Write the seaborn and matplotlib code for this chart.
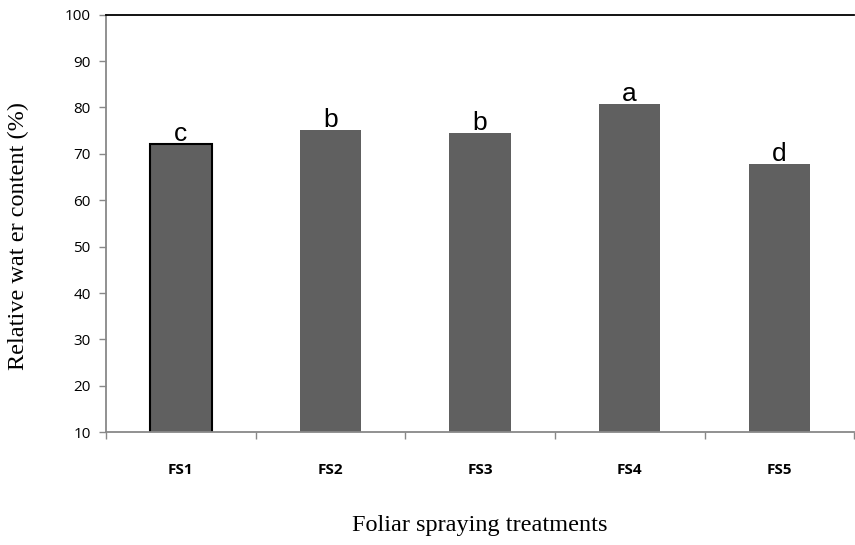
import seaborn as sns
import matplotlib.pyplot as plt
import pandas as pd

treatments = ['FS1', 'FS2', 'FS3', 'FS4', 'FS5']
water_content = [72.1, 75.2, 74.6, 80.8, 67.8]
letters = ['c', 'b', 'b', 'a', 'd']

df = pd.DataFrame({'treatment': treatments, 'rwc': water_content})

sns.set_style('white')
plt.rcParams['text.color'] = 'black'
plt.rcParams['xtick.labelcolor'] = 'black'
plt.rcParams['ytick.labelcolor'] = 'black'
plt.rcParams['axes.labelcolor'] = 'black'

fig = plt.figure(figsize=(8.55, 5.45), dpi=100)
ax = fig.add_axes([0.124, 0.207, 0.875, 0.766])

sns.barplot(data=df, x='treatment', y='rwc', color='#606060', saturation=1,
            width=0.41, ax=ax, bottom=0)

# only the first bar has a black outline
for i, patch in enumerate(ax.patches):
    if i == 0:
        patch.set_edgecolor('black')
        patch.set_linewidth(1.5)
    else:
        patch.set_edgecolor('none')

for i, (v, lab) in enumerate(zip(water_content, letters)):
    ax.annotate(lab, xy=(i, v), xytext=(0, 2), textcoords='offset points',
                ha='center', va='baseline', fontsize=19,
                family='Liberation Sans')

ax.set_ylim(10, 100)
ax.set_xlim(-0.5, 4.5)
ax.set_yticks(range(10, 101, 10))
ax.set_yticklabels([str(t) for t in range(10, 101, 10)],
                   fontsize=11, family='Open Sans')

# category boundaries get the ticks, centres get the labels
ax.set_xticks([i - 0.5 for i in range(6)])
ax.set_xticklabels([])
ax.set_xticks(range(5), minor=True)
ax.set_xticklabels(treatments, minor=True, fontsize=11,
                   fontweight='bold', family='Open Sans')
ax.tick_params(axis='x', which='minor', length=0, pad=22)
ax.tick_params(axis='x', which='major', length=5, width=1, color='#888888',
               direction='out', bottom=True)
ax.tick_params(axis='y', length=5, width=1, color='#888888',
               direction='out', left=True, pad=6)

for side in ['left', 'bottom']:
    ax.spines[side].set_color('#888888')
    ax.spines[side].set_linewidth(1.3)
ax.spines['top'].set_color('black')
ax.spines['top'].set_linewidth(1.3)
ax.spines['right'].set_visible(False)

ax.set_xlabel('Foliar spraying treatments', fontsize=17.5,
              family='Liberation Serif', va='center')
ax.set_ylabel('Relative wat er content (%)', fontsize=17.5,
              family='Liberation Serif', va='center')
ax.xaxis.set_label_coords(0.5, -0.223)
ax.yaxis.set_label_coords(-0.1176, 0.47)

plt.savefig('out.png', dpi=100)
